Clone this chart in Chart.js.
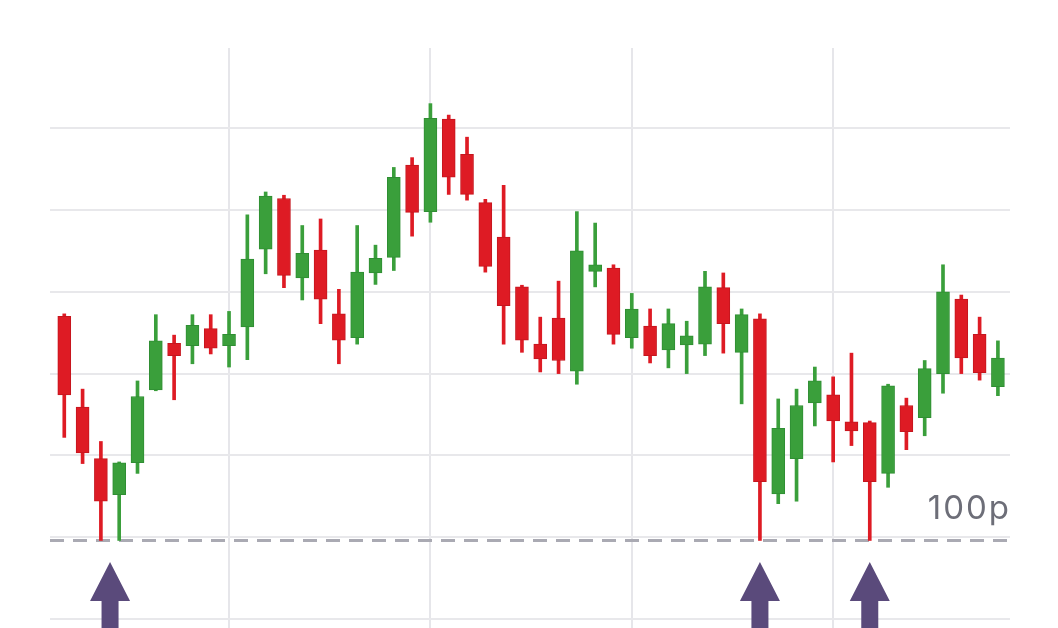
<!DOCTYPE html>
<html lang="en">
<head>
    <meta charset="UTF-8">
    <title>Candles</title>
    <script src="https://cdn.jsdelivr.net/npm/chart.js"></script>
    <style>
        body { margin: 0; background: #fff; }
        #wrap { width: 1058px; height: 628px; }
    </style>
</head>
<body>
    <div id="wrap"><canvas id="velas"></canvas></div>

    <script>
        // OHLC, one entry per candle
        var opens  = [127.4, 116.3, 110.0, 105.6, 109.5, 118.4, 124.1, 123.8, 125.9, 123.8,
                      126.1, 135.6, 141.8, 132.1, 135.5, 127.7, 124.8, 132.7, 134.6, 145.9,
                      140.2, 151.5, 147.2, 141.3, 137.1, 131.0, 124.0, 127.2, 120.7, 132.9,
                      133.3, 124.8, 126.2, 123.3, 123.9, 124.0, 130.9, 123.0, 127.1, 105.7,
                      110.0, 116.8, 117.8, 114.5, 114.4, 108.2, 116.5, 115.0, 120.4, 129.5,
                      125.2, 118.8];
        var highs  = [127.7, 118.5, 112.1, 109.6, 119.5, 127.6, 125.1, 127.6, 127.6, 128.0,
                      139.8, 142.6, 142.2, 138.5, 139.3, 130.7, 138.5, 136.1, 145.6, 146.8,
                      153.4, 152.0, 149.3, 141.7, 143.4, 131.2, 127.3, 131.7, 140.2, 138.8,
                      133.7, 130.2, 128.3, 128.3, 126.8, 132.9, 132.7, 128.3, 127.7, 117.3,
                      118.5, 121.2, 120.0, 122.9, 114.6, 119.1, 117.4, 122.0, 133.7, 130.0,
                      127.3, 124.4];
        var lows   = [112.6, 109.4, 100.0, 100.0, 108.2, 118.3, 117.2, 121.6, 122.8, 121.2,
                      122.1, 132.6, 130.9, 129.4, 126.5, 121.6, 124.0, 131.3, 133.0, 137.2,
                      138.9, 142.3, 141.6, 132.8, 124.0, 123.0, 120.6, 120.4, 119.1, 131.0,
                      124.0, 123.5, 121.7, 121.1, 120.4, 122.6, 122.9, 116.7, 100.0, 104.5,
                      104.8, 114.0, 109.6, 111.6, 100.0, 106.5, 111.1, 112.8, 118.0, 120.4,
                      119.6, 117.7];
        var closes = [117.8, 110.7, 104.8, 109.5, 117.6, 124.4, 122.6, 126.3, 123.5, 125.2,
                      134.4, 142.1, 132.4, 135.1, 129.5, 124.5, 132.8, 134.5, 144.4, 140.1,
                      151.6, 144.4, 142.3, 133.5, 128.7, 124.5, 122.2, 122.0, 135.4, 133.7,
                      125.2, 128.3, 122.6, 126.5, 125.0, 131.0, 126.5, 127.6, 107.2, 113.7,
                      116.5, 119.5, 114.6, 113.4, 107.2, 118.9, 113.3, 121.0, 130.4, 122.3,
                      120.5, 122.3];

        var nivelRef = 100;           // dashed "100p" line
        var rotuloRef = '100p';
        var setas = [2.5, 38, 44];    // up arrows under the touches
        var gradeX = [9, 20, 31, 42];
        var gradeY = [90.4, 100.4, 110.4, 120.4, 130.4, 140.4, 150.4];

        var VERDE = '#3a9f3b', VERDE_B = '#2f8e33';
        var VERMELHO = '#de1b24', VERMELHO_B = '#c5161e';

        var sobe = closes.map((c, i) => c >= opens[i]);

        var pavios = highs.map((h, i) => ({ x: i, y: [lows[i], h] }));
        var corpos = opens.map((o, i) => ({ x: i, y: [o, closes[i]] }));

        const linhaRef = {
            id: 'linhaRef',
            beforeDatasetsDraw(chart) {
                const ctx = chart.ctx, a = chart.chartArea;
                const y = Math.round(chart.scales.y.getPixelForValue(nivelRef)) + 0.5;
                ctx.save();
                ctx.strokeStyle = '#aaaab3';
                ctx.lineWidth = 3;
                ctx.setLineDash([14, 9]);
                ctx.beginPath();
                ctx.moveTo(a.left, y);
                ctx.lineTo(a.right - 2, y);
                ctx.stroke();
                ctx.restore();
            },
            afterDraw(chart) {
                const ctx = chart.ctx, a = chart.chartArea;
                const sx = chart.scales.x, sy = chart.scales.y;
                const y = sy.getPixelForValue(nivelRef);
                ctx.save();
                ctx.fillStyle = '#6d6e78';
                ctx.font = '33px Inter, "Noto Sans", sans-serif';
                ctx.letterSpacing = '2px';
                ctx.textAlign = 'right';
                ctx.textBaseline = 'alphabetic';
                ctx.fillText(rotuloRef, a.right + 1, y - 21);

                // arrows
                ctx.fillStyle = '#5a4a7b';
                setas.forEach(v => {
                    const cx = sx.getPixelForValue(v);
                    const topo = y + 21.5;
                    ctx.beginPath();
                    ctx.moveTo(cx, topo);
                    ctx.lineTo(cx + 20, topo + 39);
                    ctx.lineTo(cx + 8.5, topo + 39);
                    ctx.lineTo(cx + 8.5, chart.height + 5);
                    ctx.lineTo(cx - 8.5, chart.height + 5);
                    ctx.lineTo(cx - 8.5, topo + 39);
                    ctx.lineTo(cx - 20, topo + 39);
                    ctx.closePath();
                    ctx.fill();
                });
                ctx.restore();
            }
        };

        new Chart(document.getElementById('velas'), {
            type: 'bar',
            data: {
                datasets: [
                    {
                        data: pavios,
                        backgroundColor: sobe.map(s => s ? VERDE : VERMELHO),
                        barThickness: 3,
                        grouped: false,
                        borderWidth: 0,
                        order: 2
                    },
                    {
                        data: corpos,
                        backgroundColor: sobe.map(s => s ? VERDE : VERMELHO),
                        borderColor: sobe.map(s => s ? VERDE_B : VERMELHO_B),
                        borderWidth: 1,
                        borderSkipped: false,
                        barThickness: 13,
                        minBarLength: 3,
                        grouped: false,
                        order: 1
                    }
                ]
            },
            options: {
                responsive: true,
                maintainAspectRatio: false,
                animation: false,
                layout: { padding: { left: 50, right: 48, top: 48, bottom: 0 } },
                plugins: { legend: { display: false }, tooltip: { enabled: false } },
                scales: {
                    x: {
                        type: 'linear',
                        offset: false,
                        min: -0.78,
                        max: 51.66,
                        afterBuildTicks: s => { s.ticks = gradeX.map(v => ({ value: v })); },
                        ticks: { display: false },
                        border: { display: false },
                        grid: { color: '#e6e6ea', lineWidth: 2, drawTicks: false, offset: false }
                    },
                    y: {
                        min: 89.3,
                        max: 160.2,
                        afterBuildTicks: s => { s.ticks = gradeY.map(v => ({ value: v })); },
                        ticks: { display: false },
                        border: { display: false },
                        grid: { color: '#e8e8eb', lineWidth: 2, drawTicks: false }
                    }
                }
            },
            plugins: [linhaRef]
        });
    </script>
</body>
</html>
